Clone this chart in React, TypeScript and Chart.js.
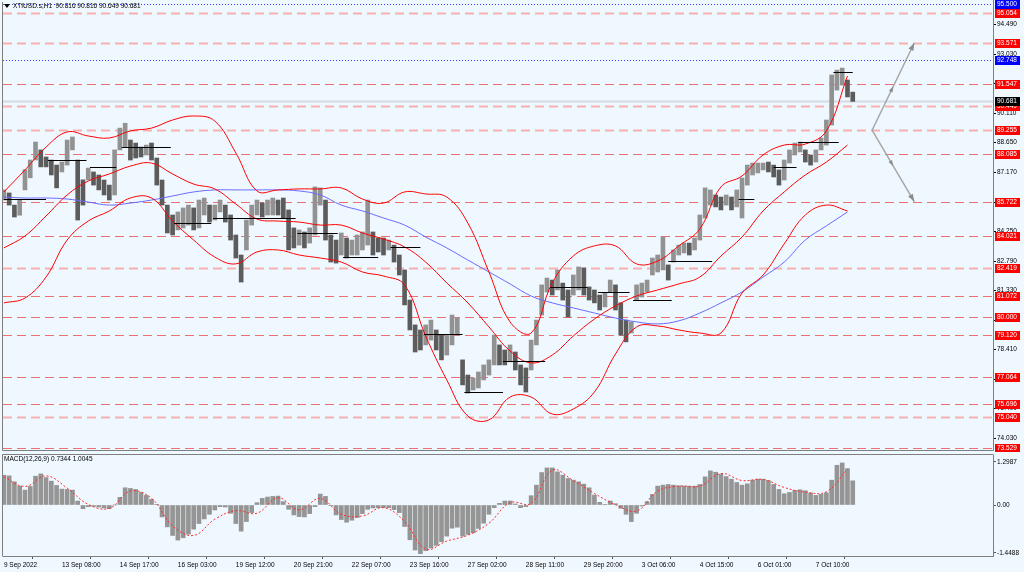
import React, { useEffect, useRef } from "react";
import { Chart, registerables } from "chart.js";

Chart.register(...registerables);

const FONT = "'Liberation Sans', 'DejaVu Sans', sans-serif";
const FS = 6.5;

// bar index units: 1 = one H1 bar
const CANDLE_STEP = 3;
const CURVE_STEP = 12;
const X_MIN = -0.5;
const X_MAX = 562.8;
const Y_MIN = 73.43;
const Y_MAX = 95.6;

const candleHigh = [
  86.3, 86.15, 85.55, 85.8, 87.3, 87.78, 88.67, 88.28, 87.93, 87.78,
  87.53, 87.68, 88.77, 88.92, 87.78, 86.8, 87.38, 87.19, 87.04, 86.79,
  86.54, 88.28, 89.36, 89.6, 88.77, 88.62, 88.42, 88.52, 88.62, 87.88,
  86.79, 85.55, 85.06, 85.21, 85.41, 85.55, 85.41, 85.8, 85.9, 85.55,
  85.55, 85.8, 85.55, 85.06, 84.07, 83.08, 84.81, 85.55, 85.8, 85.65,
  85.8, 85.9, 85.8, 85.9, 85.31, 84.42, 84.32, 84.22, 84.42, 86.45,
  86.4, 85.8, 84.07, 83.82, 84.17, 83.92, 83.82, 84.07, 84.22, 85.8,
  84.22, 83.92, 83.92, 83.82, 83.57, 83.08, 82.34, 80.85, 79.62, 79.37,
  79.62, 79.86, 79.37, 79.12, 79.12, 80.11, 79.96, 77.89, 77.14, 76.99,
  77.29, 77.64, 77.89, 79.12, 78.63, 78.38, 78.63, 78.28, 77.64, 77.49,
  78.87, 79.86, 81.6, 81.94, 81.84, 82.34, 81.69, 81.35, 82.09, 82.49,
  82.44, 81.5, 81.35, 81.1, 81.2, 81.84, 81.6, 80.71, 79.86, 79.77,
  81.6, 81.69, 81.84, 82.93, 83.08, 83.97, 82.59, 83.33, 83.57, 83.67,
  83.67, 83.92, 85.06, 86.4, 86.3, 86.05, 85.95, 86.05, 85.95, 86.3,
  86.89, 87.53, 87.63, 87.63, 87.63, 87.68, 87.53, 87.29, 87.78, 88.28,
  88.62, 88.67, 88.28, 88.03, 88.28, 88.87, 89.76, 91.99, 92.23, 92.33,
  91.74, 91.14,
];
const candleLow = [
  85.8, 85.55, 84.96, 85.05, 86.3, 86.9, 87.78, 87.44, 87.44, 87.04,
  86.4, 87.19, 87.53, 88.28, 84.81, 85.55, 86.79, 86.54, 86.3, 86.05,
  85.8, 86.05, 88.28, 88.42, 87.78, 87.88, 87.93, 88.03, 87.78, 86.54,
  85.55, 84.17, 84.07, 84.32, 84.42, 84.56, 84.32, 84.42, 85.06, 84.71,
  84.81, 85.21, 84.71, 83.82, 82.93, 81.74, 83.33, 84.56, 85.06, 84.96,
  85.06, 85.06, 85.06, 84.91, 83.33, 83.43, 83.57, 83.43, 83.67, 84.07,
  85.55, 83.82, 82.73, 82.68, 83.08, 82.93, 83.08, 83.08, 83.33, 83.57,
  83.08, 83.23, 83.08, 83.33, 82.73, 82.09, 80.61, 79.37, 78.28, 78.38,
  78.63, 78.87, 78.38, 77.89, 78.13, 78.63, 79.12, 76.65, 76.25, 76.4,
  76.5, 76.9, 77.14, 77.64, 77.64, 77.64, 77.79, 77.39, 76.65, 76.3,
  77.39, 78.63, 80.11, 81.25, 81.1, 81.35, 80.85, 80.01, 81.1, 81.35,
  81.1, 80.85, 80.71, 80.36, 80.51, 81.25, 80.36, 79.12, 78.78, 79.22,
  80.85, 81.0, 81.25, 82.09, 82.24, 82.34, 81.84, 82.73, 83.08, 83.18,
  83.08, 83.33, 83.82, 84.91, 85.55, 85.46, 85.31, 85.55, 85.31, 85.46,
  84.91, 86.54, 87.04, 87.14, 87.29, 87.19, 86.94, 86.54, 86.79, 87.63,
  88.03, 88.18, 87.68, 87.53, 87.68, 88.28, 88.52, 89.51, 91.24, 91.49,
  90.9, 90.68,
];

const bbUpper = [
  86.2, 87.29, 88.42, 89.17, 88.97, 88.87, 89.22, 89.36, 89.76, 89.96,
  89.71, 88.13, 86.25, 86.3, 86.35, 86.35, 86.4, 85.85, 85.65, 86.2,
  86.1, 85.95, 84.66, 82.24, 79.77, 79.22, 81.7, 83.03, 83.53, 83.53,
  82.64, 82.78, 83.53, 84.37, 86.45, 86.99, 88.03, 88.52, 88.57, 89.22,
  91.94,
];
const bbMiddle = [
  83.43, 84.02, 85.01, 86.05, 86.74, 87.09, 87.48, 87.63, 87.09, 86.59,
  86.35, 85.6, 84.86, 84.76, 84.71, 84.56, 84.56, 84.17, 83.87, 83.48,
  82.73, 81.7, 80.71, 79.52, 78.33, 77.74, 78.13, 79.07, 79.91, 80.56,
  81.05, 81.35, 81.65, 81.99, 83.03, 83.97, 85.26, 86.2, 87.04, 87.68,
  88.52,
];
const bbLower = [
  80.71, 80.95, 81.99, 83.82, 84.76, 85.26, 85.9, 85.9, 84.76, 83.82,
  82.98, 82.64, 83.23, 83.33, 83.08, 82.93, 82.73, 82.24, 82.04, 81.6,
  79.07, 76.9, 75.11, 74.92, 76.05, 76.05, 75.21, 75.46, 76.3, 78.18,
  79.52, 79.57, 79.37, 79.22, 79.22, 81.2, 82.09, 83.63, 85.06, 85.55,
  85.26,
];
const maSlow = [
  85.95, 85.9, 85.9, 85.85, 85.7, 85.55, 85.65, 85.8, 86.0, 86.2,
  86.3, 86.3, 86.3, 86.3, 86.25, 86.05, 85.55, 85.26, 84.91, 84.56,
  83.97, 83.43, 82.83, 82.24, 81.65, 81.05, 80.71, 80.46, 80.21, 79.96,
  79.77, 79.67, 79.82, 80.21, 80.71, 81.25, 81.99, 82.73, 83.82, 84.52,
  85.21,
];

const macdHist = [
  0.9, 0.88, 0.7, 0.57, 0.45, 0.56, 0.87, 0.94, 0.83, 0.72,
  0.59, 0.48, 0.47, 0.45, 0.12, -0.11, -0.05, -0.04, -0.06, -0.09,
  -0.11, 0.0, 0.23, 0.52, 0.5, 0.47, 0.38, 0.29, 0.17, 0.02,
  -0.36, -0.66, -0.92, -1.06, -0.99, -0.88, -0.73, -0.56, -0.42, -0.28,
  -0.15, -0.05, -0.06, -0.25, -0.56, -0.79, -0.5, -0.23, 0.07, 0.2,
  0.24, 0.26, 0.27, 0.1, -0.13, -0.3, -0.35, -0.36, -0.26, -0.05,
  0.33, 0.26, -0.01, -0.3, -0.44, -0.52, -0.46, -0.38, -0.26, -0.13,
  -0.09, -0.08, -0.08, -0.08, -0.14, -0.23, -0.65, -1.05, -1.36, -1.47,
  -1.38, -1.3, -1.22, -1.11, -0.94, -0.7, -0.67, -0.94, -0.89, -0.84,
  -0.71, -0.55, -0.28, -0.08, 0.05, 0.12, 0.12, 0.03, -0.08, -0.05,
  0.28, 0.6, 0.98, 1.12, 1.12, 1.0, 0.9, 0.8, 0.75, 0.7,
  0.63, 0.52, 0.3, 0.08, 0.02, 0.12, 0.04, -0.1, -0.28, -0.5,
  -0.25, -0.03, 0.1, 0.32, 0.57, 0.6, 0.62, 0.6, 0.58, 0.57,
  0.57, 0.57, 0.62, 0.85, 1.03, 0.99, 0.93, 0.86, 0.78, 0.68,
  0.6, 0.64, 0.75, 0.78, 0.78, 0.74, 0.62, 0.47, 0.34, 0.38,
  0.44, 0.46, 0.43, 0.36, 0.29, 0.32, 0.37, 0.75, 1.2, 1.27,
  1.1, 0.73,
];
const macdSignal = [
  0.85, 0.56, 0.88, 0.51, 0.02, -0.1, 0.42, 0.2, -0.63, -0.92,
  -0.43, -0.17, -0.25, 0.22, -0.15, 0.2, -0.28, -0.33, -0.08, -0.5,
  -1.33, -1.09, -0.91, -0.55, 0.07, 0.05, 1.05, 0.74, 0.35, 0.01,
  -0.18, 0.42, 0.57, 0.57, 0.95, 0.74, 0.77, 0.53, 0.39, 0.4,
  1.08,
];

const timeTickBars = [0, 33, 66, 99, 132, 165, 198, 231, 264, 297, 330, 363, 396, 429, 462];
const timeTickLabels = [
  "9 Sep 2022", "13 Sep 08:00", "14 Sep 17:00", "16 Sep 03:00", "19 Sep 12:00",
  "20 Sep 21:00", "22 Sep 07:00", "23 Sep 16:00", "27 Sep 02:00", "28 Sep 11:00",
  "29 Sep 20:00", "3 Oct 06:00", "4 Oct 15:00", "6 Oct 01:00", "7 Oct 10:00",
];

const priceTicks = [94.49, 93.03, 91.57, 90.11, 88.65, 87.17, 85.71, 84.25, 82.79, 81.33, 79.87, 78.41, 76.95, 75.49, 74.03];
const redLevels = [95.054, 93.571, 91.547, 90.449, 89.255, 88.085, 85.722, 84.021, 82.419, 81.072, 80.0, 79.12, 77.064, 75.696, 75.04, 73.529];
const paleLevels = [95.054, 93.571, 90.449, 89.255, 82.419, 75.04];
const blueLevels = [95.5, 92.748];
const lastPrice = 90.681;

const segStart = [0, 25, 49, 67, 97, 119, 167, 193, 220, 239, 262, 284, 311, 338, 358, 378, 418, 438, 452, 472];
const segEnd = [24, 47, 64, 95, 118, 166, 190, 213, 237, 261, 284, 308, 332, 356, 380, 403, 427, 451, 475, 483];
const segPrice = [85.85, 87.78, 87.43, 88.42, 84.66, 84.91, 84.17, 82.98, 83.48, 79.17, 76.3, 77.84, 81.5, 81.25, 80.85, 82.78, 85.85, 87.43, 88.67, 92.14];

const arrowFromBar = 494;
const arrowToBar = 518;
const arrowFromPrice = 89.255;
const arrowUpPrice = 93.571;
const arrowDownPrice = 85.722;

const macdTicks = [1.2987, 0, -1.4488];
const macdTickLabels = ["1.2987", "0.00", "-1.4488"];

const titleText = "XTIUSD.s,H1  90.816 90.816 90.649 90.681";
const macdTitle = "MACD(12,26,9) 0.7344 1.0045";

const curve = (arr: number[]) => arr.map((v, i) => ({ x: i * CURVE_STEP, y: v }));

function drawArrowHead(ctx: CanvasRenderingContext2D, x: number, y: number, ang: number, size: number) {
  ctx.beginPath();
  ctx.moveTo(x, y);
  ctx.lineTo(x - size * Math.cos(ang - 0.35), y - size * Math.sin(ang - 0.35));
  ctx.lineTo(x - size * Math.cos(ang + 0.35), y - size * Math.sin(ang + 0.35));
  ctx.closePath();
  ctx.fill();
}

const pricePlugin = {
  id: "priceDecor",
  beforeDatasetsDraw(chart: any) {
    const { ctx, chartArea: a, scales } = chart;
    const ys = scales.y;
    ctx.save();
    ctx.beginPath();
    ctx.rect(a.left, a.top, a.right - a.left, a.bottom - a.top);
    ctx.clip();
    const lp = Math.round(ys.getPixelForValue(lastPrice)) + 0.5;
    ctx.strokeStyle = "#d3dae2";
    ctx.lineWidth = 2;
    ctx.beginPath();
    ctx.moveTo(a.left, lp);
    ctx.lineTo(a.right, lp);
    ctx.stroke();
    redLevels.forEach((v) => {
      const pale = paleLevels.includes(v);
      const py = Math.round(ys.getPixelForValue(v)) + 0.5;
      ctx.strokeStyle = pale ? "#f7b0b0" : "#ec7070";
      ctx.lineWidth = pale ? 2 : 1;
      ctx.setLineDash([9, 5]);
      ctx.beginPath();
      ctx.moveTo(a.left, py);
      ctx.lineTo(a.right, py);
      ctx.stroke();
    });
    blueLevels.forEach((v) => {
      const py = Math.round(ys.getPixelForValue(v)) + 0.5;
      ctx.strokeStyle = "#3b3bff";
      ctx.lineWidth = 1;
      ctx.setLineDash([1, 2]);
      ctx.beginPath();
      ctx.moveTo(a.left, py);
      ctx.lineTo(a.right, py);
      ctx.stroke();
    });
    ctx.restore();
  },
  afterDatasetsDraw(chart: any) {
    const { ctx, scales } = chart;
    const xs = scales.x;
    const ys = scales.y;
    ctx.save();
    // support / resistance segments
    ctx.strokeStyle = "#000";
    ctx.lineWidth = 1;
    ctx.beginPath();
    segStart.forEach((s, i) => {
      const py = Math.round(ys.getPixelForValue(segPrice[i])) + 0.5;
      ctx.moveTo(xs.getPixelForValue(s), py);
      ctx.lineTo(xs.getPixelForValue(segEnd[i]), py);
    });
    ctx.stroke();
    // arrows
    const x1 = xs.getPixelForValue(arrowFromBar);
    const y1 = ys.getPixelForValue(arrowFromPrice);
    const x2 = xs.getPixelForValue(arrowToBar);
    [arrowUpPrice, arrowDownPrice].forEach((p) => {
      const y2 = ys.getPixelForValue(p);
      const ang = Math.atan2(y2 - y1, x2 - x1);
      ctx.strokeStyle = "#a6a6a6";
      ctx.lineWidth = 1.5;
      ctx.beginPath();
      ctx.moveTo(x1, y1);
      ctx.lineTo(x2, y2);
      ctx.stroke();
      ctx.fillStyle = "#8c8c8c";
      drawArrowHead(ctx, x2, y2, ang, 8);
      drawArrowHead(ctx, x1 + (x2 - x1) * 0.5, y1 + (y2 - y1) * 0.5, ang, 6);
    });
    ctx.restore();
  },
  afterDraw(chart: any) {
    const { ctx, chartArea: a, scales } = chart;
    const ys = scales.y;
    ctx.save();
    ctx.strokeStyle = "#7f7f7f";
    ctx.lineWidth = 1;
    ctx.beginPath();
    ctx.moveTo(a.left - 0.5, a.top);
    ctx.lineTo(a.left - 0.5, a.bottom + 0.5);
    ctx.lineTo(a.right + 0.5, a.bottom + 0.5);
    ctx.moveTo(a.right + 0.5, 0);
    ctx.lineTo(a.right + 0.5, a.bottom + 0.5);
    ctx.stroke();

    ctx.font = `${FS}px ${FONT}`;
    ctx.textBaseline = "middle";
    ctx.textAlign = "left";
    priceTicks.forEach((v) => {
      const py = Math.round(ys.getPixelForValue(v));
      ctx.fillStyle = "#000";
      ctx.fillRect(a.right + 1, py, 2, 1);
      ctx.fillText(v.toFixed(3), a.right + 4, py + 0.5);
    });
    const box = (v: number, bg: string) => {
      const py = Math.round(ys.getPixelForValue(v));
      ctx.fillStyle = bg;
      ctx.fillRect(a.right + 2, py - 4, 25, 9);
      ctx.fillStyle = "#fff";
      ctx.fillText(v.toFixed(3), a.right + 4, py + 0.5);
    };
    redLevels.forEach((v) => box(v, "#ff0000"));
    blueLevels.forEach((v) => box(v, "#0000ff"));
    box(lastPrice, "#000000");

    ctx.fillStyle = "#000";
    ctx.beginPath();
    ctx.moveTo(4, 4);
    ctx.lineTo(10, 4);
    ctx.lineTo(7, 8);
    ctx.closePath();
    ctx.fill();
    ctx.fillText(titleText, 13, 6.5);
    ctx.restore();
  },
};

const macdPlugin = {
  id: "macdDecor",
  afterDraw(chart: any) {
    const { ctx, chartArea: a } = chart;
    ctx.save();
    ctx.strokeStyle = "#7f7f7f";
    ctx.lineWidth = 1;
    ctx.beginPath();
    ctx.moveTo(a.left - 0.5, a.top - 0.5);
    ctx.lineTo(a.right + 0.5, a.top - 0.5);
    ctx.moveTo(a.left - 0.5, a.top - 0.5);
    ctx.lineTo(a.left - 0.5, a.bottom + 0.5);
    ctx.stroke();
    ctx.font = `${FS}px ${FONT}`;
    ctx.textBaseline = "middle";
    ctx.textAlign = "left";
    ctx.fillStyle = "#000";
    ctx.fillText(macdTitle, a.left + 1, a.top + 4.5);
    ctx.restore();
  },
};

export default function App() {
  const priceRef = useRef<HTMLCanvasElement>(null);
  const macdRef = useRef<HTMLCanvasElement>(null);

  useEffect(() => {
    const candleData = candleHigh.map((h, i) => ({ x: i * CANDLE_STEP, y: [candleLow[i], h] }));
    const candleColors = candleHigh.map((h, i) => {
      if (i === 0) return "#929292";
      const m = (h + candleLow[i]) / 2;
      const pm = (candleHigh[i - 1] + candleLow[i - 1]) / 2;
      return m < pm ? "#5c5c5c" : "#929292";
    });

    const lineDs = (data: any[], color: string, order: number, extra: any = {}) => ({
      type: "line",
      data,
      borderColor: color,
      borderWidth: 1,
      pointRadius: 0,
      tension: 0.4,
      fill: false,
      order,
      ...extra,
    });

    const priceChart = new Chart(priceRef.current as HTMLCanvasElement, {
      type: "bar",
      data: {
        datasets: [
          lineDs(curve(bbUpper), "#ff0000", 1),
          lineDs(curve(bbMiddle), "#ff0000", 1),
          lineDs(curve(bbLower), "#ff0000", 1),
          lineDs(curve(maSlow), "#6a6aff", 2),
          {
            type: "bar",
            data: candleData,
            backgroundColor: candleColors,
            barThickness: 4,
            order: 3,
          },
        ] as any,
      },
      options: {
        responsive: false,
        animation: false,
        events: [],
        layout: { padding: { left: 3, top: 2, right: 0, bottom: 2 } },
        plugins: { legend: { display: false }, tooltip: { enabled: false } },
        scales: {
          x: { type: "linear", min: X_MIN, max: X_MAX, offset: false, display: false },
          y: {
            type: "linear",
            position: "right",
            min: Y_MIN,
            max: Y_MAX,
            grid: { display: false },
            border: { display: false },
            ticks: { display: false },
            afterFit: (s: any) => {
              s.width = 31;
              s.paddingTop = 0;
              s.paddingBottom = 0;
            },
          },
        },
      } as any,
      plugins: [pricePlugin],
    });

    const macdChart = new Chart(macdRef.current as HTMLCanvasElement, {
      type: "bar",
      data: {
        datasets: [
          lineDs(curve(macdSignal), "#ff2a2a", 0, { borderDash: [2, 2] }),
          {
            type: "bar",
            data: macdHist.map((v, i) => ({ x: i * CANDLE_STEP, y: v })),
            backgroundColor: "#959595",
            barThickness: 4,
            order: 1,
          },
        ] as any,
      },
      options: {
        responsive: false,
        animation: false,
        events: [],
        layout: { padding: { left: 3, top: 3, right: 0, bottom: 0 } },
        plugins: { legend: { display: false }, tooltip: { enabled: false } },
        scales: {
          x: {
            type: "linear",
            position: "bottom",
            min: X_MIN,
            max: X_MAX,
            offset: false,
            afterBuildTicks: (s: any) => {
              s.ticks = timeTickBars.map((v) => ({ value: v }));
            },
            afterFit: (s: any) => {
              s.height = 16;
              s.paddingLeft = 0;
              s.paddingRight = 0;
            },
            ticks: {
              callback: (_v: any, i: number) => timeTickLabels[i],
              align: "start",
              maxRotation: 0,
              minRotation: 0,
              autoSkip: false,
              color: "#000",
              padding: 2,
              font: { family: FONT, size: FS },
            },
            grid: { display: true, drawOnChartArea: false, tickLength: 3, color: "#555" },
            border: { display: true, color: "#7f7f7f" },
          },
          y: {
            type: "linear",
            position: "right",
            min: -1.54,
            max: 1.51,
            afterBuildTicks: (s: any) => {
              s.ticks = macdTicks.map((v) => ({ value: v }));
            },
            afterFit: (s: any) => {
              s.width = 31;
              s.paddingTop = 0;
              s.paddingBottom = 0;
            },
            ticks: {
              callback: (_v: any, i: number) => macdTickLabels[i],
              color: "#000",
              padding: 1,
              font: { family: FONT, size: FS },
            },
            grid: { display: true, drawOnChartArea: false, tickLength: 3, color: "#555" },
            border: { display: true, color: "#7f7f7f" },
          },
        },
      } as any,
      plugins: [macdPlugin],
    });

    return () => {
      priceChart.destroy();
      macdChart.destroy();
    };
  }, []);

  return (
    <div style={{ position: "fixed", left: 0, top: 0, width: 1024, height: 572, background: "#f0f8ff", overflow: "hidden" }}>
      <div style={{ position: "absolute", left: 0, top: 0, width: 1024, height: 452 }}>
        <canvas ref={priceRef} width={1024} height={452} style={{ display: "block" }} />
      </div>
      <div style={{ position: "absolute", left: 0, top: 452, width: 1024, height: 120 }}>
        <canvas ref={macdRef} width={1024} height={120} style={{ display: "block" }} />
      </div>
    </div>
  );
}
